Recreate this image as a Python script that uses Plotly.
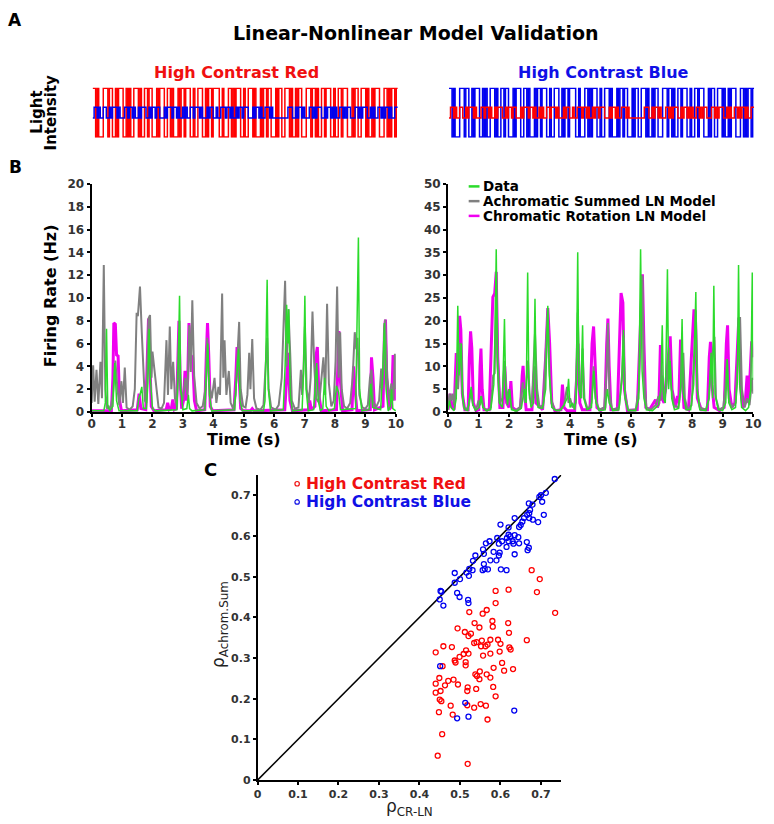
import plotly.graph_objects as go

# ---------------- DATA ----------------
# Panel A stimulus frames (1 = high, 0 = low), 200 frames over 10 s
stim_high_rows = [
    "1101000111011001011100101001110100110110",
    "0010111001101000101101110010011100101101",
    "1110010001101011100100111010001011011000",
    "1011001110100101100011101101001101110010",
    "0110111000101100111010010111000110101101",
]
stim_low_rows = [
    "0110100110010111010001101101001011100101",
    "1011000101110110100101001101110100010110",
    "0100111011010010110111000101101001110100",
    "0000000011100101101000110101110010110101",
    "0011010110001101011100101001101011010011",
]
high_contrast_amp = 1.0
low_contrast_amp = 0.22

# Panel B left: High Contrast Red (firing rate, Hz)
L_gray_t = [0.00,0.05,0.10,0.16,0.22,0.29,0.34,0.40,0.45,0.50,0.56,0.62,0.70,0.78,0.85,0.91,0.98,1.03,1.09,1.15,1.25,1.35,1.42,1.48,1.52,1.59,1.65,1.70,1.75,1.80,1.87,1.92,1.97,2.00,2.08,2.13,2.20,2.30,2.38,2.46,2.51,2.57,2.62,2.68,2.74,2.80,2.87,2.92,3.00,3.08,3.15,3.21,3.26,3.31,3.37,3.45,3.55,3.65,3.74,3.80,3.86,3.95,4.04,4.10,4.17,4.22,4.29,4.33,4.37,4.43,4.51,4.57,4.65,4.73,4.80,4.85,4.90,4.98,5.06,5.12,5.18,5.22,5.28,5.34,5.42,5.55,5.65,5.72,5.77,5.82,5.90,6.05,6.15,6.25,6.36,6.41,6.47,6.53,6.58,6.68,6.80,6.88,6.92,6.96,7.01,7.07,7.14,7.20,7.26,7.32,7.38,7.48,7.55,7.62,7.68,7.74,7.80,7.88,7.96,8.02,8.07,8.12,8.17,8.22,8.30,8.40,8.50,8.58,8.65,8.70,8.74,8.80,8.90,9.00,9.08,9.15,9.20,9.25,9.35,9.45,9.52,9.56,9.65,9.72,9.80,9.85,9.92,9.97,10.00]
L_gray_v = [0.8,4.1,0.9,3.7,0.7,4.4,1.2,12.9,2.0,0.3,0.5,0.2,1.5,4.5,2.0,0.6,2.7,0.8,3.9,0.4,0.2,0.5,2.0,8.7,8.4,11.0,6.9,4.3,1.0,0.8,8.2,8.5,3.0,5.3,3.2,2.2,0.4,0.3,0.8,6.3,1.5,7.5,2.0,4.4,1.2,0.5,7.0,2.0,1.0,3.0,1.5,7.6,3.5,9.8,3.2,0.8,0.3,0.5,2.0,6.5,2.5,1.2,3.0,0.8,2.2,1.5,10.4,3.0,6.3,1.5,3.6,0.8,0.3,1.5,5.5,7.9,2.0,0.5,0.4,1.5,5.2,2.0,6.4,1.2,0.3,0.2,0.6,3.5,6.5,2.0,0.4,0.2,0.6,3.0,11.5,4.0,9.0,5.0,1.0,0.3,0.4,3.7,1.5,3.4,7.5,2.0,0.8,3.0,8.8,4.0,1.2,0.8,3.0,4.8,1.5,9.5,2.5,0.5,1.0,4.5,11.0,3.0,7.0,2.0,0.5,0.3,0.8,3.0,7.0,5.5,6.5,1.5,0.4,0.3,0.6,3.0,3.7,1.0,0.4,1.0,3.8,2.0,8.1,3.0,1.0,2.5,1.0,5.1,2.0]

L_green_t = [0.00,0.40,0.45,0.49,0.53,0.60,0.70,0.76,0.82,0.90,1.50,1.55,1.60,1.65,1.70,1.80,1.85,1.89,1.93,2.00,2.10,2.80,2.84,2.89,2.93,3.00,3.13,3.18,3.22,3.30,3.72,3.78,3.82,3.87,3.95,4.70,4.78,4.83,4.88,4.95,5.65,5.70,5.74,5.77,5.81,5.88,6.30,6.36,6.41,6.45,6.48,6.53,6.60,6.92,6.97,7.01,7.05,7.12,7.30,7.36,7.40,7.45,7.52,7.60,7.66,7.71,7.80,7.98,8.05,8.12,8.18,8.68,8.73,8.77,8.81,8.88,9.12,9.18,9.24,9.50,9.57,9.62,9.68,9.75,9.82,9.86,9.90,10.00]
L_green_v = [0.1,0.1,0.8,7.3,0.5,0.1,0.5,4.3,1.0,0.1,0.1,1.2,1.6,2.2,0.3,0.3,2.5,7.3,3.0,0.3,0.1,0.2,3.0,10.2,2.0,0.2,0.3,1.5,0.3,0.1,0.2,3.0,6.0,1.5,0.1,0.2,3.0,5.5,1.0,0.1,0.1,1.0,7.0,11.6,2.0,0.1,0.2,4.0,9.4,6.0,9.0,1.5,0.1,0.2,4.0,10.2,2.0,0.1,0.2,3.0,4.3,1.0,0.1,0.3,3.0,0.5,0.1,0.3,2.3,1.7,0.2,0.3,7.0,15.3,2.0,0.1,0.2,2.5,0.4,0.2,3.5,7.8,2.0,0.1,0.5,2.0,0.3,0.1]

L_mag_t = [0.00,0.65,0.70,0.73,0.78,0.82,0.87,0.92,0.98,1.50,1.56,1.62,1.78,1.83,1.87,1.91,1.96,2.05,2.45,2.50,2.55,2.62,2.67,2.72,2.79,2.84,2.87,2.91,2.96,3.02,3.07,3.12,3.16,3.20,3.25,3.32,3.38,3.45,3.72,3.77,3.81,3.85,3.90,3.98,4.68,4.74,4.78,4.83,4.90,5.00,5.22,5.28,5.34,6.35,6.42,6.46,6.52,6.60,7.12,7.17,7.22,7.34,7.38,7.42,7.47,7.55,8.05,8.10,8.13,8.17,8.25,8.56,8.61,8.66,8.72,9.16,9.20,9.25,9.30,9.58,9.63,9.66,9.70,9.78,9.86,9.91,9.95,10.00]
L_mag_v = [0.1,0.1,3.0,7.8,7.7,5.0,4.9,1.0,0.1,0.2,1.6,0.3,0.2,5.0,8.2,5.0,0.5,0.1,0.2,0.8,0.2,0.3,1.1,0.2,0.3,5.0,8.0,3.0,0.3,1.0,3.6,1.0,3.0,7.8,5.0,4.8,1.0,0.1,0.2,5.0,7.8,5.0,0.5,0.1,0.2,3.0,5.7,4.0,0.3,0.1,0.1,0.3,0.1,0.2,4.0,5.2,1.0,0.1,0.2,1.0,0.2,0.5,5.0,5.7,1.5,0.1,0.2,5.0,7.1,3.0,0.1,0.2,4.0,2.0,0.1,0.2,4.8,3.0,0.2,0.5,7.5,8.1,3.0,0.2,0.5,5.0,2.0,1.0]

# Panel B right: High Contrast Blue (firing rate, Hz)
R_green_t = [0.00,0.05,0.10,0.20,0.27,0.32,0.36,0.40,0.44,0.48,0.55,0.65,0.72,0.76,0.82,0.90,1.02,1.08,1.14,1.25,1.40,1.50,1.55,1.58,1.62,1.68,1.78,1.85,1.89,1.95,2.02,2.08,2.25,2.40,2.50,2.56,2.61,2.65,2.72,2.80,2.85,2.89,2.95,3.10,3.20,3.27,3.32,3.40,3.55,3.70,3.80,3.90,3.95,4.00,4.08,4.15,4.20,4.25,4.29,4.35,4.41,4.45,4.55,4.70,4.78,4.85,4.95,5.15,5.22,5.28,5.40,5.60,5.70,5.75,5.80,5.90,6.15,6.25,6.31,6.36,6.42,6.50,6.70,6.90,6.97,7.02,7.06,7.12,7.19,7.23,7.28,7.33,7.42,7.55,7.62,7.67,7.71,7.80,7.95,8.05,8.12,8.16,8.25,8.45,8.55,8.62,8.67,8.71,8.75,8.85,9.00,9.10,9.15,9.20,9.30,9.42,9.48,9.52,9.56,9.62,9.75,9.85,9.92,9.97,10.00]
R_green_v = [0.5,2.5,1.0,0.3,3.0,23.3,8.0,12.0,15.0,3.0,0.5,0.3,3.0,5.5,1.5,0.3,1.0,3.5,1.0,0.3,0.5,6.0,20.0,35.7,10.0,2.0,1.0,20.4,5.0,1.5,5.0,0.5,0.2,0.8,5.0,2.0,30.6,5.0,1.0,2.0,24.8,5.0,1.0,0.8,5.0,23.3,8.0,1.0,0.3,0.5,1.5,3.0,7.3,1.0,2.0,0.5,3.0,35.0,5.0,3.0,19.0,3.0,0.5,1.0,9.0,2.0,0.3,0.5,5.0,2.0,0.3,0.5,7.0,18.0,3.0,0.3,0.3,3.0,35.7,9.0,3.0,0.5,0.3,1.5,5.0,19.0,3.0,2.0,31.3,5.0,11.2,3.0,0.5,0.8,5.0,20.4,4.0,0.5,0.5,6.0,26.3,5.0,0.5,0.3,3.0,13.0,3.0,27.7,4.0,0.5,0.3,2.0,11.6,2.0,0.5,1.0,6.5,32.2,6.0,1.0,0.3,1.0,5.0,30.6,7.0]

R_gray_t = [0.00,0.05,0.10,0.15,0.20,0.28,0.33,0.40,0.46,0.52,0.60,0.68,0.75,0.82,0.92,1.00,1.05,1.10,1.16,1.28,1.40,1.48,1.53,1.58,1.63,1.70,1.78,1.85,1.92,2.00,2.08,2.20,2.35,2.45,2.52,2.62,2.68,2.75,2.85,2.92,3.00,3.12,3.22,3.27,3.32,3.38,3.48,3.65,3.80,3.90,3.95,4.00,4.08,4.18,4.25,4.31,4.37,4.41,4.47,4.58,4.70,4.77,4.83,4.95,5.12,5.19,5.24,5.29,5.38,5.60,5.70,5.75,5.80,5.90,6.15,6.25,6.32,6.37,6.42,6.50,6.65,6.80,6.90,6.96,7.02,7.08,7.15,7.25,7.31,7.40,7.55,7.64,7.71,7.76,7.85,7.98,8.06,8.12,8.17,8.25,8.45,8.55,8.62,8.66,8.73,8.78,8.88,9.02,9.08,9.14,9.20,9.30,9.42,9.50,9.57,9.63,9.72,9.80,9.88,9.97,10.00]
R_gray_v = [1.0,4.0,2.5,4.0,1.5,8.0,5.0,15.2,5.0,1.0,0.5,1.5,4.5,1.5,0.5,2.5,1.5,3.5,1.0,0.3,1.0,8.0,8.5,30.8,12.0,2.0,3.0,11.2,3.0,5.0,1.0,0.3,1.0,6.5,2.0,11.3,3.0,2.0,17.3,5.0,1.0,1.5,15.5,22.8,10.0,3.0,0.5,0.3,1.5,5.5,2.0,3.0,1.0,2.0,21.8,6.0,3.0,13.9,3.0,0.5,2.0,10.0,3.0,0.5,1.0,8.0,19.5,4.0,0.5,1.0,8.0,16.8,4.0,0.5,0.5,5.0,18.0,29.9,8.0,1.0,0.5,1.5,3.5,2.5,8.0,3.0,5.0,14.1,6.0,1.5,1.0,6.0,13.0,3.0,0.5,1.5,12.0,22.3,5.0,1.0,0.5,3.0,10.0,13.0,16.5,3.0,0.5,1.0,5.0,11.6,3.0,1.0,2.0,12.0,20.8,5.0,1.0,3.0,1.5,7.5,4.0]

R_mag_t = [0.00,0.07,0.13,0.20,0.27,0.31,0.35,0.38,0.42,0.47,0.55,0.66,0.70,0.74,0.78,0.83,0.92,1.01,1.05,1.08,1.12,1.18,1.35,1.42,1.47,1.53,1.58,1.63,1.70,1.80,1.86,1.92,2.00,2.06,2.11,2.25,2.38,2.43,2.46,2.50,2.56,2.75,2.84,2.88,3.10,3.20,3.27,3.33,3.40,3.50,3.70,3.75,3.80,3.90,4.15,4.22,4.26,4.32,4.40,4.65,4.72,4.77,4.82,4.88,5.00,5.14,5.20,5.24,5.28,5.34,5.55,5.63,5.67,5.73,5.78,5.88,6.20,6.30,6.37,6.42,6.48,6.60,6.70,6.80,6.86,6.91,6.96,7.01,7.08,7.20,7.28,7.34,7.45,7.52,7.56,7.62,7.67,7.73,7.88,7.98,8.06,8.11,8.17,8.30,8.50,8.56,8.60,8.65,8.72,8.90,9.05,9.12,9.16,9.21,9.30,9.40,9.48,9.53,9.58,9.66,9.74,9.80,9.85,9.90,9.95,10.00]
R_mag_v = [0.5,4.0,1.0,0.5,12.9,6.0,15.0,21.1,18.0,4.0,0.5,0.5,12.0,17.7,14.0,2.0,0.3,0.5,10.0,13.9,5.0,0.5,0.5,15.0,25.2,26.0,30.7,12.0,1.0,1.0,10.0,2.0,1.0,6.75,1.0,0.3,1.0,8.0,10.1,5.0,0.5,0.5,10.0,2.0,0.5,12.0,22.8,15.0,2.0,0.3,0.5,6.0,1.0,0.3,0.3,8.0,15.0,2.0,0.5,0.5,15.0,18.75,12.0,1.0,0.3,1.0,15.0,20.5,10.0,0.5,0.5,18.0,26.1,24.0,5.0,0.3,0.5,18.0,30.2,15.0,1.0,0.5,1.5,2.7,1.0,2.0,14.7,3.0,2.0,10.0,16.6,5.0,1.0,3.5,2.0,15.9,8.0,1.0,0.5,12.0,22.5,20.0,3.0,0.5,0.5,12.0,15.4,6.0,1.0,0.3,1.0,15.0,19.0,5.0,1.0,2.0,15.0,20.7,6.0,1.0,2.0,8.0,2.0,10.0,15.5,12.0]

# Panel C: correlation coefficients per cell
blue_x = [0.734,0.696,0.700,0.712,0.703,0.707,0.670,0.679,0.673,0.671,0.666,0.658,0.680,0.693,0.671,0.654,0.650,0.646,0.635,0.620,0.600,0.620,0.624,0.616,0.635,0.644,0.630,0.620,0.604,0.592,0.596,0.632,0.646,0.665,0.670,0.667,0.635,0.615,0.598,0.596,0.583,0.590,0.575,0.573,0.564,0.557,0.559,0.538,0.532,0.559,0.561,0.569,0.556,0.531,0.523,0.516,0.522,0.487,0.500,0.487,0.493,0.499,0.520,0.521,0.452,0.454,0.450,0.459,0.601,0.615,0.451,0.513,0.493,0.521,0.634]
blue_y = [0.740,0.696,0.700,0.706,0.684,0.652,0.680,0.677,0.664,0.656,0.652,0.644,0.640,0.634,0.644,0.635,0.627,0.622,0.644,0.621,0.628,0.603,0.599,0.595,0.602,0.597,0.587,0.587,0.587,0.595,0.581,0.581,0.582,0.585,0.571,0.565,0.555,0.573,0.559,0.552,0.561,0.540,0.540,0.587,0.582,0.567,0.556,0.552,0.539,0.531,0.519,0.518,0.516,0.516,0.519,0.510,0.502,0.509,0.494,0.485,0.460,0.450,0.443,0.435,0.465,0.463,0.444,0.429,0.518,0.516,0.280,0.190,0.152,0.156,0.171]
red_x = [0.735,0.697,0.677,0.690,0.665,0.620,0.588,0.588,0.523,0.566,0.556,0.619,0.580,0.581,0.536,0.548,0.494,0.512,0.527,0.521,0.621,0.594,0.575,0.600,0.554,0.541,0.535,0.552,0.563,0.568,0.622,0.625,0.515,0.521,0.509,0.480,0.459,0.440,0.499,0.487,0.489,0.514,0.514,0.575,0.598,0.557,0.604,0.609,0.631,0.583,0.549,0.538,0.542,0.566,0.575,0.548,0.457,0.449,0.440,0.471,0.484,0.495,0.463,0.452,0.440,0.519,0.518,0.540,0.582,0.588,0.450,0.454,0.477,0.518,0.535,0.551,0.564,0.448,0.482,0.568,0.456,0.445,0.519]
red_y = [0.411,0.494,0.516,0.462,0.344,0.468,0.465,0.435,0.413,0.418,0.409,0.386,0.391,0.377,0.386,0.375,0.373,0.364,0.360,0.354,0.362,0.345,0.345,0.335,0.343,0.339,0.337,0.329,0.329,0.333,0.326,0.321,0.319,0.311,0.310,0.327,0.329,0.314,0.303,0.294,0.289,0.290,0.282,0.311,0.316,0.306,0.288,0.269,0.273,0.276,0.267,0.260,0.256,0.260,0.252,0.248,0.280,0.251,0.237,0.244,0.247,0.235,0.233,0.219,0.215,0.228,0.219,0.224,0.229,0.206,0.198,0.194,0.183,0.184,0.178,0.187,0.183,0.167,0.161,0.149,0.113,0.060,0.040]

identity_line = [0.0, 0.75]

left_y_ticks = [0, 2, 4, 6, 8, 10, 12, 14, 16, 18, 20]
right_y_ticks = [0, 5, 10, 15, 20, 25, 30, 35, 40, 45, 50]
time_ticks = [0, 1, 2, 3, 4, 5, 6, 7, 8, 9, 10]
rho_ticks = [0, 0.1, 0.2, 0.3, 0.4, 0.5, 0.6, 0.7]
rho_tick_text = ["0", "0.1", "0.2", "0.3", "0.4", "0.5", "0.6", "0.7"]

# ---------------- STYLE ----------------
W, H = 774, 824
FONT = "DejaVu Sans"
RED, BLUE = "#ff0000", "#0000f0"
GREEN, GRAY, MAG = "#2bdb2b", "#808080", "#f000f0"


def px(x):
    return x / W


def py(y):
    return 1 - y / H


high = [int(c) for c in "".join(stim_high_rows)]
low = [int(c) for c in "".join(stim_low_rows)]
frames = list(range(len(high) + 1))
high_vals = [high_contrast_amp if v else -high_contrast_amp for v in high] + [high_contrast_amp if high[-1] else -high_contrast_amp]
low_vals = [low_contrast_amp if v else -low_contrast_amp for v in low] + [low_contrast_amp if low[-1] else -low_contrast_amp]

fig = go.Figure()

# Panel A: red high-contrast stimulus with blue low-contrast
fig.add_trace(go.Scatter(x=frames, y=high_vals, mode="lines", line=dict(color=RED, width=1.5, shape="hv"),
                         xaxis="x", yaxis="y", showlegend=False))
fig.add_trace(go.Scatter(x=frames, y=low_vals, mode="lines", line=dict(color=BLUE, width=1.5, shape="hv"),
                         xaxis="x", yaxis="y", showlegend=False))
# Panel A: blue high-contrast stimulus with red low-contrast
fig.add_trace(go.Scatter(x=frames, y=high_vals, mode="lines", line=dict(color=BLUE, width=1.5, shape="hv"),
                         xaxis="x2", yaxis="y2", showlegend=False))
fig.add_trace(go.Scatter(x=frames, y=low_vals, mode="lines", line=dict(color=RED, width=1.5, shape="hv"),
                         xaxis="x2", yaxis="y2", showlegend=False))

# Panel B traces
for (tm, vm, tg, vg, tgr, vgr, xa, ya) in [
    (L_mag_t, L_mag_v, L_gray_t, L_gray_v, L_green_t, L_green_v, "x3", "y3"),
    (R_mag_t, R_mag_v, R_gray_t, R_gray_v, R_green_t, R_green_v, "x4", "y4"),
]:
    fig.add_trace(go.Scatter(x=tm, y=vm, mode="lines", line=dict(color=MAG, width=3),
                             xaxis=xa, yaxis=ya, showlegend=False))
    fig.add_trace(go.Scatter(x=tg, y=vg, mode="lines", line=dict(color=GRAY, width=2),
                             xaxis=xa, yaxis=ya, showlegend=False))
    fig.add_trace(go.Scatter(x=tgr, y=vgr, mode="lines", line=dict(color=GREEN, width=1.5),
                             xaxis=xa, yaxis=ya, showlegend=False))

# Panel C
fig.add_trace(go.Scatter(x=identity_line, y=identity_line, mode="lines", line=dict(color="black", width=1.5),
                         xaxis="x5", yaxis="y5", showlegend=False, cliponaxis=False))
fig.add_trace(go.Scatter(x=red_x, y=red_y, mode="markers",
                         marker=dict(symbol="circle-open", size=5, color=RED, line=dict(width=1.3)),
                         xaxis="x5", yaxis="y5", showlegend=False))
fig.add_trace(go.Scatter(x=blue_x, y=blue_y, mode="markers",
                         marker=dict(symbol="circle-open", size=5, color=BLUE, line=dict(width=1.3)),
                         xaxis="x5", yaxis="y5", showlegend=False))

hidden = dict(visible=False, showgrid=False, zeroline=False, fixedrange=True)
axis_common = dict(showgrid=False, zeroline=False, showline=True, linecolor="black", linewidth=2,
                   ticks="outside", ticklen=3, tickwidth=1.5, tickcolor="black",
                   tickfont=dict(family=FONT, size=12, color="#333333", weight="bold"))
c_common = dict(axis_common, linewidth=1.5, tickfont=dict(family=FONT, size=11, color="#333333", weight="bold"))

fig.update_layout(
    width=W, height=H, margin=dict(l=0, r=0, t=0, b=0),
    paper_bgcolor="white", plot_bgcolor="rgba(0,0,0,0)", showlegend=False,
    font=dict(family=FONT),
    xaxis=dict(hidden, domain=[px(90), px(400)], range=[0, len(high)]),
    yaxis=dict(hidden, domain=[py(133), py(82)], range=[-1.03, 1.03]),
    xaxis2=dict(hidden, domain=[px(452), px(762)], range=[0, len(high)]),
    yaxis2=dict(hidden, domain=[py(133), py(82)], range=[-1.03, 1.03]),
    xaxis3=dict(axis_common, domain=[px(89), px(398)], range=[0, 10], tickvals=time_ticks, anchor="y3",
                ticklabelstandoff=-3),
    yaxis3=dict(axis_common, domain=[py(412), py(180)], range=[0, 20], tickvals=left_y_ticks, anchor="x3"),
    xaxis4=dict(axis_common, domain=[px(451), px(761)], range=[0, 10], tickvals=time_ticks, anchor="y4",
                ticklabelstandoff=-3),
    yaxis4=dict(axis_common, domain=[py(412), py(180)], range=[0, 50], tickvals=right_y_ticks, anchor="x4"),
    xaxis5=dict(c_common, domain=[px(257.5), px(566)], range=[0, 0.75], tickvals=rho_ticks,
                ticktext=rho_tick_text, anchor="y5"),
    yaxis5=dict(c_common, domain=[py(786.5), py(476)], range=[0, 0.75], tickvals=rho_ticks,
                ticktext=rho_tick_text, anchor="x5"),
)

annotations = []


def ann(text, x, y, size, color="black", weight="bold", angle=0, xanchor="center"):
    annotations.append(dict(text=text, x=px(x), y=py(y), xref="paper", yref="paper", showarrow=False,
                            xanchor=xanchor, yanchor="middle", textangle=angle,
                            font=dict(family=FONT, size=size, color=color, weight=weight)))


ann("A", 11, 13, 17)
ann("B", 12, 163, 17)
ann("C", 210, 470, 18)
ann("Linear-Nonlinear Model Validation", 418, 26, 19)
ann("High Contrast Red", 236, 67, 16, color="#f01010")
ann("High Contrast Blue", 609, 67, 16, color="#1010e6")
ann("Light", 34, 107, 15, angle=-90)
ann("Intensity", 48, 107, 15, angle=-90)
ann("Firing Rate (Hz)", 47, 294, 16, angle=-90)
ann("Time (s)", 243.5, 440, 16)
ann("Time (s)", 606, 440, 16)

legend_items = [("Data", GREEN, 182.5), ("Achromatic Summed LN Model", GRAY, 197.5),
                ("Chromatic Rotation LN Model", MAG, 212.5)]
shapes = []
for name, col, yy in legend_items:
    shapes.append(dict(type="line", xref="paper", yref="paper", x0=px(472), x1=px(483), y0=py(yy), y1=py(yy),
                       line=dict(color=col, width=2.5)))
    ann(name, 485, yy, 13.5, xanchor="left")

for name, col, yy in [("High Contrast Red", "#f01010", 485), ("High Contrast Blue", "#1010e6", 503.5)]:
    shapes.append(dict(type="circle", xref="paper", yref="paper", x0=px(295.5), x1=px(300), y0=py(yy - 2.3),
                       y1=py(yy + 2.3), line=dict(color=col, width=1.2)))
    ann(name, 305, yy, 15.5, color=col, xanchor="left")

ann("ρ<sub>CR-LN</sub>", 412, 814, 17, color="#222222", weight="normal")
ann("ρ<sub>Achrom.Sum</sub>", 219, 628, 17, color="#222222", weight="normal", angle=-90)

fig.update_layout(annotations=annotations, shapes=shapes)
fig.write_html("out.html", config={"displayModeBar": False},
               post_script="document.body.style.margin='0px';document.body.style.padding='0px';"
                           "document.documentElement.style.overflow='hidden';")
